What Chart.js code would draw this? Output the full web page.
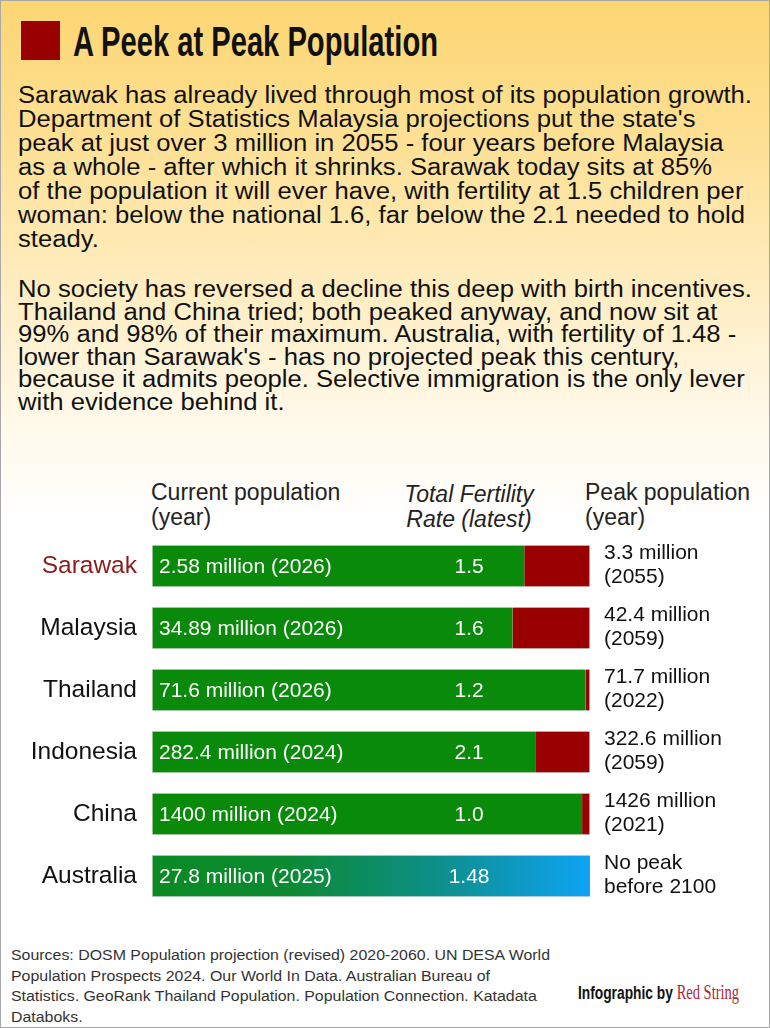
<!DOCTYPE html>
<html>
<head>
<meta charset="utf-8">
<script src="https://cdn.jsdelivr.net/npm/chart.js@4.4.1/dist/chart.umd.min.js"></script>
<style>
  html, body { margin: 0; padding: 0; }
  body {
    width: 770px; height: 1028px; position: relative; overflow: hidden;
    font-family: "Liberation Sans", Arial, sans-serif; color: #111;
    background: linear-gradient(to bottom, #fdd672 0px, #fee197 150px, #ffeec4 300px, #fff9ea 420px, #ffffff 520px);
  }
  #frame { position: absolute; left: 0; top: 0; width: 768px; height: 1026px; border: 1px solid #a8a8a8; }
  #square { position: absolute; left: 21px; top: 21px; width: 39px; height: 39px; background: #990000; }
  #title {
    position: absolute; left: 73px; top: 20px; white-space: nowrap;
    font-family: "Liberation Sans Narrow", sans-serif; font-weight: bold;
    font-size: 43px; line-height: 43px; transform-origin: 0 0;
  }
  .para { position: absolute; left: 18px; white-space: nowrap; font-size: 23px; transform-origin: 0 0; }
  #p1 { top: 83px; line-height: 24px; }
  #p2 { top: 278px; line-height: 22.6px; }
  .head { position: absolute; font-size: 23px; line-height: 24.5px; color: #222; white-space: nowrap; }
  #chartBox { position: absolute; left: 0; top: 535px; width: 770px; height: 372px; }
  #sources {
    position: absolute; left: 11px; top: 945px; font-size: 15.5px; line-height: 20.6px;
    color: #333; white-space: nowrap; transform-origin: 0 0;
  }
  #credit { position: absolute; left: 578px; top: 981px; white-space: nowrap; transform-origin: 0 0; }
  #credit .by { font-family: "Liberation Sans Narrow", sans-serif; font-weight: bold; font-size: 19px; color: #111; }
  #credit .rs { font-family: "Liberation Serif", serif; font-size: 20px; color: #b32630; }
</style>
</head>
<body>
<div id="frame"></div>
<div id="square"></div>
<div id="title">A Peek at Peak Population</div>

<div class="para" id="p1">
  <div id="fitLine">Sarawak has already lived through most of its population growth.</div>
  <div>Department of Statistics Malaysia projections put the state's</div>
  <div>peak at just over 3 million in 2055 - four years before Malaysia</div>
  <div>as a whole - after which it shrinks. Sarawak today sits at 85%</div>
  <div>of the population it will ever have, with fertility at 1.5 children per</div>
  <div>woman: below the national 1.6, far below the 2.1 needed to hold</div>
  <div>steady.</div>
</div>
<div class="para" id="p2">
  <div>No society has reversed a decline this deep with birth incentives.</div>
  <div>Thailand and China tried; both peaked anyway, and now sit at</div>
  <div>99% and 98% of their maximum. Australia, with fertility of 1.48 -</div>
  <div>lower than Sarawak's - has no projected peak this century,</div>
  <div>because it admits people. Selective immigration is the only lever</div>
  <div>with evidence behind it.</div>
</div>

<div class="head" id="h1" style="left:151px;top:480px;">Current population<br>(year)</div>
<div class="head" id="h2" style="left:369px;top:482px;width:200px;text-align:center;font-style:italic;">Total Fertility<br>Rate (latest)</div>
<div class="head" id="h3" style="left:585px;top:480px;">Peak population<br>(year)</div>

<div id="chartBox"><canvas id="popChart" width="770" height="372"></canvas></div>

<div id="sources">
  <div id="srcLine">Sources: DOSM Population projection (revised) 2020-2060. UN DESA World</div>
  <div>Population Prospects 2024. Our World In Data. Australian Bureau of</div>
  <div>Statistics. GeoRank Thailand Population. Population Connection. Katadata</div>
  <div>Databoks.</div>
</div>
<div id="credit"><span class="by">Infographic by </span><span class="rs">Red String</span></div>

<script>
// chart data
const countries = ["Sarawak", "Malaysia", "Thailand", "Indonesia", "China", "Australia"];
const currentPop = ["2.58 million (2026)", "34.89 million (2026)", "71.6 million (2026)",
                    "282.4 million (2024)", "1400 million (2024)", "27.8 million (2025)"];
const fertility = ["1.5", "1.6", "1.2", "2.1", "1.0", "1.48"];
const peakPop = ["3.3 million", "42.4 million", "71.7 million", "322.6 million", "1426 million", "No peak"];
const peakYear = ["(2055)", "(2059)", "(2022)", "(2059)", "(2021)", "before 2100"];
// current population as % of peak, and what is left to the peak
const shareOfPeak = [85, 82.3, 99, 87.5, 98.2, 100];
const gapToPeak = [15, 17.7, 1, 12.5, 1.8, 0];

const GREEN = "#0a8a0a";
const RED = "#990000";

function fitText() {
  const title = document.getElementById("title");
  title.style.transform = "scaleX(" + (365 / title.getBoundingClientRect().width) + ")";
  const w = document.getElementById("fitLine").getBoundingClientRect().width;
  const s = 734 / w;
  document.getElementById("p1").style.transform = "scaleX(" + s + ")";
  document.getElementById("p2").style.transform = "scaleX(" + s + ")";
  const src = document.getElementById("srcLine").getBoundingClientRect().width;
  document.getElementById("sources").style.transform = "scaleX(" + (539 / src) + ")";
  const cr = document.getElementById("credit");
  cr.style.transform = "scaleX(" + (161 / cr.getBoundingClientRect().width) + ")";
}

function ausGradient(chart) {
  const a = chart.chartArea;
  if (!a) return GREEN;
  const g = chart.ctx.createLinearGradient(a.left, 0, a.right, 0);
  g.addColorStop(0, "#0a8a22");
  g.addColorStop(0.3, "#0b8a30");
  g.addColorStop(0.65, "#0d8f8a");
  g.addColorStop(1, "#0ea3f5");
  return g;
}

const barLabels = {
  id: "barLabels",
  afterDatasetsDraw(chart) {
    const ctx = chart.ctx;
    const area = chart.chartArea;
    const x = chart.scales.x;
    const bars = chart.getDatasetMeta(0).data;
    ctx.save();
    ctx.textBaseline = "middle";
    ctx.font = '21px "Liberation Sans", Arial, sans-serif';
    bars.forEach((bar, i) => {
      ctx.fillStyle = "#fff";
      ctx.textAlign = "left";
      ctx.fillText(currentPop[i], area.left + 7, bar.y + 1);
      ctx.textAlign = "center";
      ctx.fillText(fertility[i], x.getPixelForValue(72.4), bar.y + 1);
      ctx.fillStyle = "#111";
      ctx.textAlign = "left";
      ctx.fillText(peakPop[i], area.right + 14, bar.y - 13);
      ctx.fillText(peakYear[i], area.right + 14, bar.y + 11);
    });
    ctx.restore();
  }
};

function draw() {
  fitText();
  new Chart(document.getElementById("popChart"), {
    type: "bar",
    data: {
      labels: countries,
      datasets: [
        {
          data: shareOfPeak,
          backgroundColor: c => c.dataIndex === 5 ? ausGradient(c.chart) : GREEN,
          borderColor: "rgba(210,210,210,0.8)",
          borderWidth: 1,
          borderSkipped: "right",
          barThickness: 42
        },
        {
          data: gapToPeak,
          backgroundColor: RED,
          borderColor: "rgba(210,210,210,0.8)",
          borderWidth: 1,
          borderSkipped: "left",
          barThickness: 42
        }
      ]
    },
    options: {
      indexAxis: "y",
      responsive: false,
      animation: false,
      layout: { padding: { left: 0, right: 180, top: 0, bottom: 0 } },
      scales: {
        x: { stacked: true, min: 0, max: 100, display: false },
        y: {
          stacked: true,
          grid: { display: false, drawTicks: false },
          border: { display: false },
          ticks: {
            padding: 15,
            font: { family: '"Liberation Sans", Arial, sans-serif', size: 24.5 },
            color: c => c.index === 0 ? "#8e1b1b" : "#111"
          },
          afterFit(scale) {
            scale.width = 152;
            scale.paddingTop = 0;
            scale.paddingBottom = 0;
          }
        }
      },
      plugins: { legend: { display: false }, tooltip: { enabled: false } }
    },
    plugins: [barLabels]
  });
}

if (document.fonts && document.fonts.ready) document.fonts.ready.then(draw);
else draw();
</script>
</body>
</html>
